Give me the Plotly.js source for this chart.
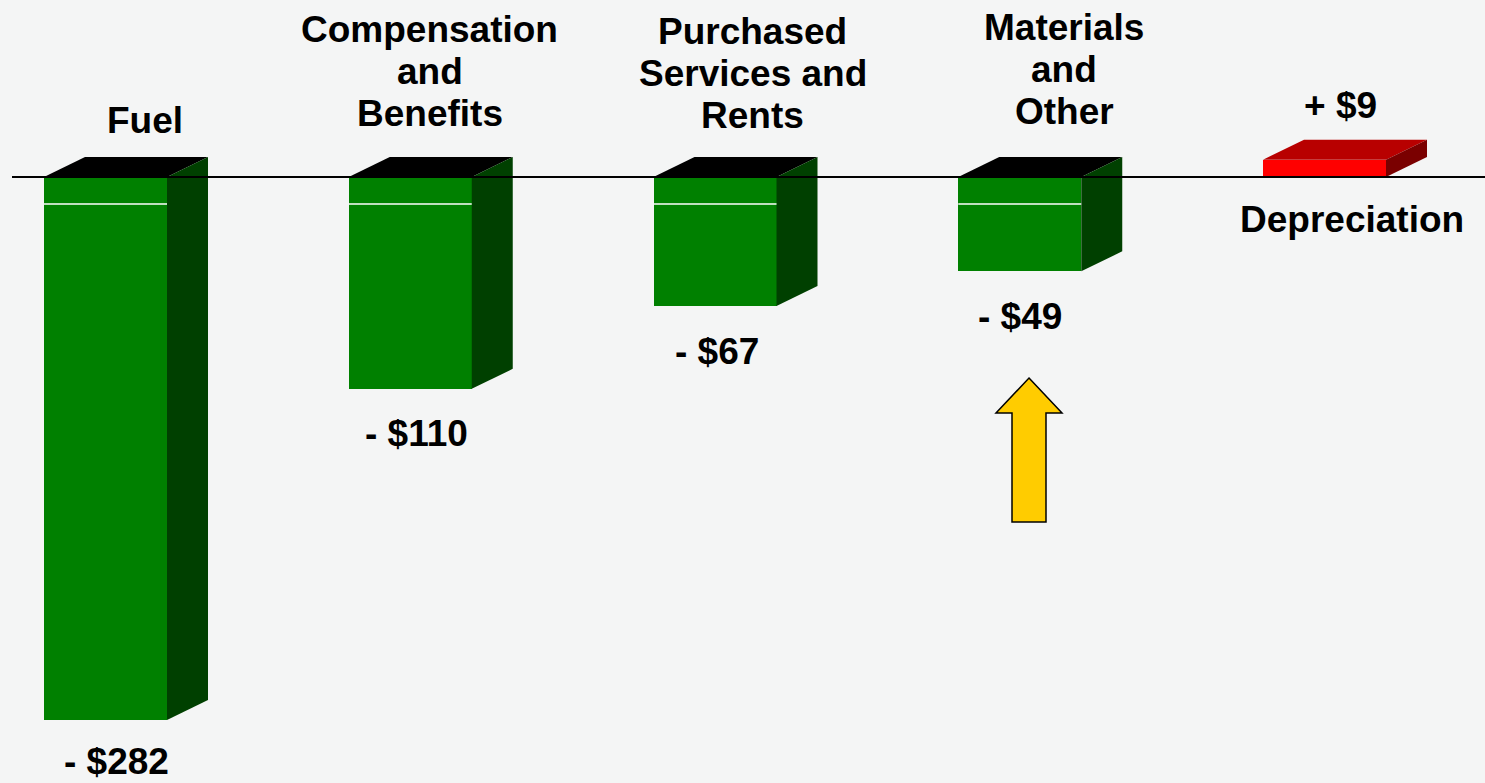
<!DOCTYPE html>
<html>
<head>
<meta charset="utf-8">
<script src="https://cdn.plot.ly/plotly-3.0.1.min.js"></script>
<style>html,body{margin:0;padding:0;background:#f4f5f5;}#chart{width:1485px;height:783px;}</style>
</head>
<body>
<div id="chart"></div>
<script>
// ---- data ----
const categories = ["Fuel", "Compensation<br>and<br>Benefits", "Purchased<br>Services and<br>Rents", "Materials<br>and<br>Other", "Depreciation"];
const values = [-282, -110, -67, -49, 9];
const valueLabels = ["- $282", "- $110", "- $67", "- $49", "+ $9"];

// ---- geometry (pixel <-> data helpers) ----
const W = 1485, H = 783;
const zeroPix = 177;
const pxPerY = 543 / 282;
const firstCenterPix = 105.5, pxPerX = 304.75;
const px2x = p => (p - firstCenterPix) / pxPerX;
const py2y = p => (zeroPix - p) / pxPerY;
const barW = 123 / pxPerX;
const dx = 41 / pxPerX, dy = 20 / pxPerY;

const FONT = {family: '"Liberation Sans", Arial, Helvetica, sans-serif', size: 37, color: '#000', weight: 'bold'};

const xs = values.map((v, i) => i);
const frontColors = values.map(v => v < 0 ? '#008000' : '#ff0000');

const traces = [];
traces.push({
  type: 'bar', x: xs, y: values, width: barW,
  marker: {color: frontColors, line: {width: 0}},
  hoverinfo: 'skip', showlegend: false
});

function poly(px, py, color) {
  traces.push({type: 'scatter', mode: 'lines', x: px.concat([px[0]]), y: py.concat([py[0]]),
    fill: 'toself', fillcolor: color, line: {width: 0, color: color}, hoverinfo: 'skip', showlegend: false});
}

values.forEach((v, i) => {
  const L = i - barW / 2, R = i + barW / 2;
  if (v < 0) {
    poly([L, R, R + dx, L + dx], [0, 0, dy, dy], '#000000');
    poly([R, R + dx, R + dx, R], [0, dy, v + dy, v], '#004000');
    const hy = py2y(204);
    traces.push({type: 'scatter', mode: 'lines', x: [L, R], y: [hy, hy],
      line: {color: '#ffffff', width: 1.3}, hoverinfo: 'skip', showlegend: false});
  } else {
    poly([L, R, R + dx, L + dx], [v, v, v + dy, v + dy], '#b80000');
    poly([R, R + dx, R + dx, R], [0, dy, v + dy, v], '#7a0000');
  }
});

// ---- labels ----
const annotations = [];
const catShift = [39.5, 19.5, 37.5, 44.5, 27.5];
const catCenterPix = [120, 29, 31, 27, 219];
const lineGap = 42;
categories.forEach((c, i) => {
  c.split('<br>').forEach((line, k) => {
    annotations.push({x: xs[i], y: py2y(catCenterPix[i] + k * lineGap), xref: 'x', yref: 'y',
      xshift: catShift[i], text: line, showarrow: false, font: FONT, xanchor: 'center', yanchor: 'middle'});
  });
});
const valShift = [10.5, 6.5, 1.5, 0, 15.5];
values.forEach((v, i) => {
  const neg = v < 0;
  annotations.push({x: xs[i], y: v, xref: 'x', yref: 'y', xshift: valShift[i],
    yshift: neg ? (i === 0 ? -41 : -45) : 54, text: valueLabels[i], showarrow: false, font: FONT,
    xanchor: 'center', yanchor: 'middle'});
});

// ---- decorations: zero line and yellow arrow ----
const ax = p => px2x(p), ay = p => py2y(p);
const arrowPts = [[1029, 378], [1062, 413], [1046, 413], [1046, 522], [1012, 522], [1012, 413], [996, 413]];
const arrowPath = 'M ' + arrowPts.map(p => ax(p[0]) + ',' + ay(p[1])).join(' L ') + ' Z';

const shapes = [
  {type: 'line', xref: 'x', yref: 'y', x0: px2x(12), x1: px2x(W), y0: 0, y1: 0,
   line: {color: '#000', width: 2}, layer: 'above'},
  {type: 'path', xref: 'x', yref: 'y', path: arrowPath, fillcolor: '#ffcc00',
   line: {color: '#000', width: 1.5}, layer: 'above'}
];

const layout = {
  width: W, height: H,
  margin: {l: 0, r: 0, t: 0, b: 0, pad: 0},
  paper_bgcolor: '#f4f5f5', plot_bgcolor: '#f4f5f5',
  xaxis: {range: [px2x(0), px2x(W)], visible: false, fixedrange: true},
  yaxis: {range: [py2y(H), py2y(0)], visible: false, fixedrange: true, zeroline: false},
  showlegend: false, bargap: 0,
  annotations: annotations, shapes: shapes
};

Plotly.newPlot('chart', traces, layout, {displayModeBar: false, staticPlot: true});
</script>
</body>
</html>
